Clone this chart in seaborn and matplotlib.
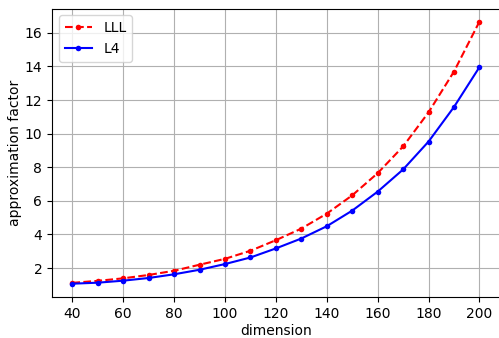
import matplotlib
matplotlib.use("Agg")
import matplotlib.pyplot as plt
import seaborn as sns
import numpy as np

dimension = [40, 50, 60, 70, 80, 90, 100, 110, 120, 130, 140, 150, 160, 170, 180, 190, 200]
lll = [1.12, 1.24, 1.39, 1.59, 1.84, 2.2, 2.55, 3.03, 3.66, 4.35, 5.24, 6.33, 7.65, 9.24, 11.27, 13.70, 16.67]
l4 = [1.07, 1.13, 1.25, 1.41, 1.63, 1.90, 2.24, 2.63, 3.17, 3.76, 4.49, 5.42, 6.55, 7.87, 9.53, 11.59, 13.96]

fig = plt.figure(figsize=(4.99, 3.38), dpi=100)
ax = fig.add_axes([52.0 / 499, 1 - 296.8 / 338, 447.8 / 499, 288.3 / 338])
sns.lineplot(x=dimension, y=lll, ax=ax, color="red", linestyle="--", marker=".",
             markersize=8, markeredgewidth=0, label="LLL")
sns.lineplot(x=dimension, y=l4, ax=ax, color="blue", linestyle="-", marker=".",
             markersize=8, markeredgewidth=0, label="L4")
ax.set_xlabel("dimension", labelpad=2.5)
ax.set_ylabel("approximation factor", labelpad=1.5)
ax.set_xticks([40, 60, 80, 100, 120, 140, 160, 180, 200])
ax.set_yticks([2, 4, 6, 8, 10, 12, 14, 16])
ax.grid(True)
ax.legend(loc="upper left")
fig.savefig("out.png")
